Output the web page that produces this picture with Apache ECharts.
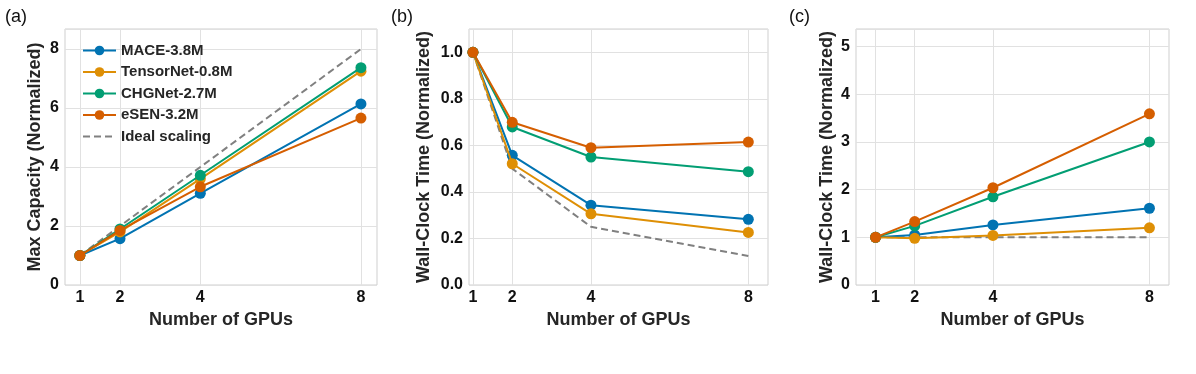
<!DOCTYPE html>
<html>
<head>
<meta charset="utf-8">
<script src="https://cdn.jsdelivr.net/npm/echarts@6/dist/echarts.min.js"></script>
<style>
  html, body { margin: 0; padding: 0; background: #fff; }
  #chart { width: 1196px; height: 374px; }
</style>
</head>
<body>
<div id="chart"></div>
<script>
// GPU counts on x
const gpus = [1, 2, 4, 8];
const modelNames = ["MACE-3.8M", "TensorNet-0.8M", "CHGNet-2.7M", "eSEN-3.2M"];
const idealName = "Ideal scaling";

// (a) max capacity
const capMACE = [1, 1.57, 3.11, 6.14];
const capTensorNet = [1, 1.80, 3.60, 7.25];
const capCHGNet = [1, 1.90, 3.72, 7.37];
const capESEN = [1, 1.85, 3.33, 5.66];
const capIdeal = [1, 2, 4, 8];

// (b) wall-clock time, strong scaling
const strongMACE = [1, 0.557, 0.343, 0.282];
const strongTensorNet = [1, 0.521, 0.306, 0.226];
const strongCHGNet = [1, 0.679, 0.550, 0.487];
const strongESEN = [1, 0.699, 0.590, 0.614];
const strongIdeal = [1, 0.5, 0.25, 0.125];

// (c) wall-clock time, weak scaling
const weakMACE = [1, 1.05, 1.26, 1.61];
const weakTensorNet = [1, 0.98, 1.04, 1.20];
const weakCHGNet = [1, 1.24, 1.85, 3.00];
const weakESEN = [1, 1.33, 2.04, 3.59];
const weakIdeal = [1, 1, 1, 1];

const colors = ["#0173b2", "#de8f05", "#029e73", "#d55e00"];
const gridColor = "#e1e1e1";
const boxColor = "#cfcfcf";
const font = "Liberation Sans, Arial, sans-serif";

const chart = echarts.init(document.getElementById("chart"));

function pairs(vals) {
  return gpus.map((g, i) => [g, vals[i]]);
}

// 一个面板的四条模型曲线 + 理想线
function panelSeries(idx, lists, ideal) {
  const out = lists.map((vals, i) => ({
    name: modelNames[i],
    type: "line",
    xAxisIndex: idx,
    yAxisIndex: idx,
    data: pairs(vals),
    symbol: "circle",
    symbolSize: 11,
    color: colors[i],
    lineStyle: { width: 2 },
    z: 3 + i,
  }));
  out.push({
    name: idealName,
    type: "line",
    xAxisIndex: idx,
    yAxisIndex: idx,
    data: pairs(ideal),
    symbol: "none",
    color: "#808080",
    lineStyle: { width: 2, type: [7, 4] },
    z: 2,
  });
  return out;
}

const grids = [
  { left: 65, width: 312, top: 29, height: 256 },
  { left: 469, width: 299, top: 29, height: 256 },
  { left: 856, width: 313, top: 29, height: 256 },
].map((g) => ({ ...g, show: true, borderColor: boxColor, borderWidth: 1 }));

const nameStyle = { fontFamily: font, fontWeight: "bold", fontSize: 18, color: "#262626" };
const tickStyle = { fontFamily: font, fontWeight: "bold", fontSize: 16, color: "#111" };

const xRanges = [[0.63, 8.4], [0.9, 8.5], [0.5, 8.5]];
const xAxis = xRanges.map((r, i) => ({
  type: "value",
  gridIndex: i,
  min: r[0],
  max: r[1],
  name: "Number of GPUs",
  nameLocation: "middle",
  nameGap: 23,
  nameTextStyle: nameStyle,
  axisLine: { show: false },
  axisTick: { show: false, customValues: gpus },
  axisLabel: { customValues: gpus, ...tickStyle, margin: 5 },
  splitLine: { show: true, lineStyle: { color: gridColor, width: 1 } },
}));

const yCfg = [
  { max: 8.68, interval: 2, name: "Max Capacity (Normalized)", gap: 21, fmt: (v) => String(v) },
  { max: 1.1, interval: 0.2, name: "Wall-Clock Time (Normalized)", gap: 36, fmt: (v) => v.toFixed(1) },
  { max: 5.37, interval: 1, name: "Wall-Clock Time (Normalized)", gap: 20, fmt: (v) => String(v) },
];
const yAxis = yCfg.map((c, i) => ({
  type: "value",
  gridIndex: i,
  min: 0,
  max: c.max,
  interval: c.interval,
  name: c.name,
  nameLocation: "middle",
  nameGap: c.gap,
  nameTextStyle: nameStyle,
  axisLine: { show: false },
  axisTick: { show: false },
  axisLabel: { showMaxLabel: false, ...tickStyle, margin: 6, formatter: c.fmt },
  splitLine: { show: true, lineStyle: { color: gridColor, width: 1 } },
}));

const legendData = modelNames.map((n) => ({ name: n }));
legendData.push({ name: idealName, itemStyle: { color: "transparent", borderWidth: 0 } });

const option = {
  backgroundColor: "#fff",
  animation: false,
  grid: grids,
  xAxis: xAxis,
  yAxis: yAxis,
  legend: {
    left: 77,
    top: 38,
    orient: "vertical",
    itemWidth: 33,
    itemHeight: 12,
    itemGap: 6.5,
    data: legendData,
    textStyle: { fontFamily: font, fontWeight: "bold", fontSize: 15, color: "#262626" },
  },
  graphic: [
    { type: "text", left: 5, top: 8, style: { text: "(a)", fontFamily: font, fontSize: 18, fill: "#111" } },
    { type: "text", left: 391, top: 8, style: { text: "(b)", fontFamily: font, fontSize: 18, fill: "#111" } },
    { type: "text", left: 789, top: 8, style: { text: "(c)", fontFamily: font, fontSize: 18, fill: "#111" } },
  ],
  series: [].concat(
    panelSeries(0, [capMACE, capTensorNet, capCHGNet, capESEN], capIdeal),
    panelSeries(1, [strongMACE, strongTensorNet, strongCHGNet, strongESEN], strongIdeal),
    panelSeries(2, [weakMACE, weakTensorNet, weakCHGNet, weakESEN], weakIdeal)
  ),
};

option && chart.setOption(option);
</script>
</body>
</html>
